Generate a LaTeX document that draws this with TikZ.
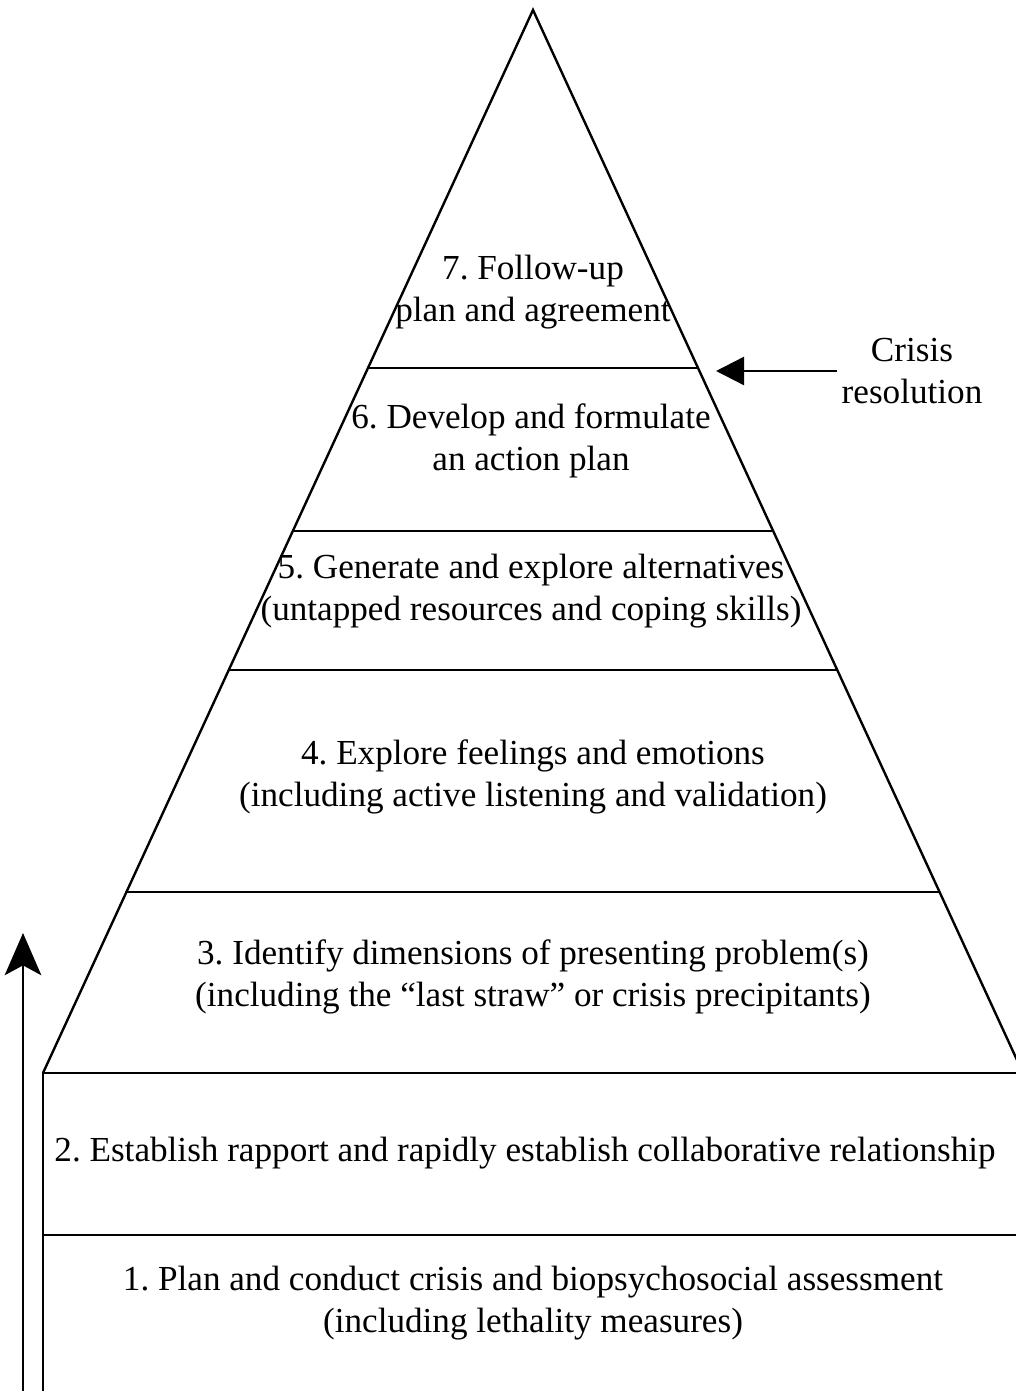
\documentclass[tikz,border=0pt]{standalone}
\usepackage{fontspec}
\setmainfont{Liberation Serif}
\usetikzlibrary{arrows.meta}

\begin{document}
\frenchspacing
\begin{tikzpicture}[x=0.025cm,y=-0.025cm,
  edge/.style={black, line width=1.7pt},
  steptext/.style={align=center, inner sep=0pt, font=\fontsize{25}{30}\selectfont}]
\useasboundingbox (0,0) rectangle (1016,1391);
\clip (0,0) rectangle (1016,1391);
% pyramid and base block
\draw[edge] (43,1073) -- (533,10) -- (1023,1073);
\draw[edge] (43,1391) -- (43,1073) -- (1016,1073);
\draw[edge] (43,1235) -- (1016,1235);
\draw[edge] (127,892) -- (939,892);
\draw[edge] (229,670) -- (837,670);
\draw[edge] (293,531) -- (773,531);
\draw[edge] (368,368) -- (698,368);
% steps
\node[steptext] (s7) at (533,292) {7. Follow-up\\plan and agreement};
\node[steptext] (s6) at (531,441) {6. Develop and formulate\\an action plan};
\node[steptext] (s5) at (531,591) {5. Generate and explore alternatives\\(untapped resources and coping skills)};
\node[steptext] (s4) at (533,777) {4. Explore feelings and emotions\\(including active listening and validation)};
\node[steptext] (s3) at (533,977) {3. Identify dimensions of presenting problem(s)\\(including the ``last straw'' or crisis precipitants)};
\node[steptext] (s2) at (525,1153) {2. Establish rapport and rapidly establish collaborative relationship};
\node[steptext] (s1) at (533,1303) {1. Plan and conduct crisis and biopsychosocial assessment\\(including lethality measures)};
% crisis resolution
\node[steptext] (crisis) at (912,371) {Crisis\\resolution};
\coordinate (top6) at (716,371);
\draw[edge, -{Triangle[length=20pt, width=20pt]}] (crisis.west) ++(-4,0) -- (top6 |- crisis.west);
% progress arrow
\coordinate (low) at (23,1391);
\coordinate (high) at (23,933);
\draw[edge, -{Stealth[length=30pt, width=26pt, inset=7pt]}] (low) -- (high);
\end{tikzpicture}
\end{document}
